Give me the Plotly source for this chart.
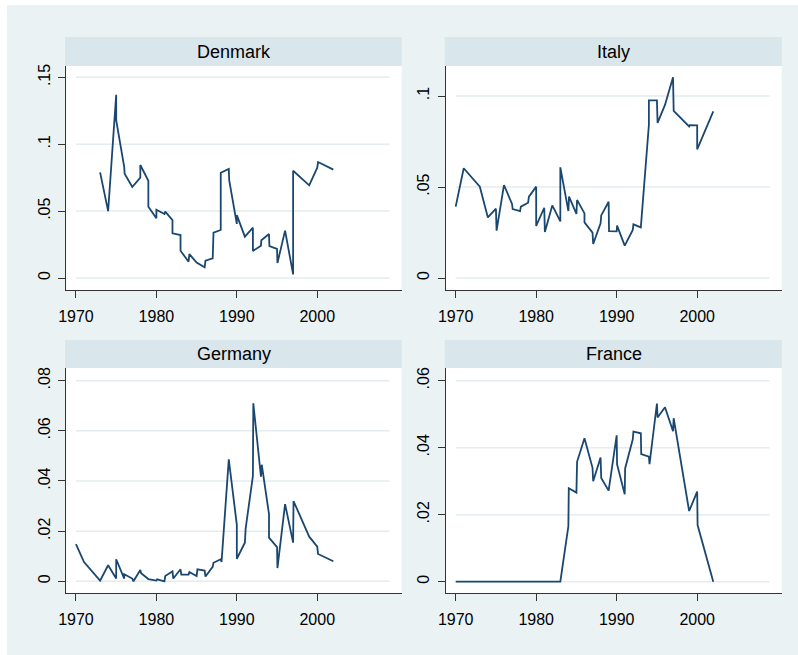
import plotly.graph_objects as go

W, H = 798, 655

# ---------------- data ----------------
countries = ["Denmark", "Italy", "Germany", "France"]

denmark_years = [1973, 1974, 1975, 1975, 1976, 1976.05, 1977, 1978, 1978, 1979, 1979, 1980, 1980,
                 1981, 1981.1, 1982, 1982, 1983, 1983, 1984, 1984.1, 1985, 1986, 1986.1, 1987, 1987.1,
                 1988, 1988, 1989, 1989.05, 1990, 1990, 1991, 1992, 1992, 1993, 1993.05, 1994, 1994.05,
                 1995, 1995.05, 1996, 1997, 1997, 1999, 2000, 2000.1, 2002]
denmark_vals = [0.079, 0.050, 0.137, 0.118, 0.083, 0.078, 0.068, 0.075, 0.0845, 0.0727, 0.0533, 0.0446, 0.051,
                0.0478, 0.0496, 0.0433, 0.0334, 0.0321, 0.0204, 0.0122, 0.0179, 0.0115, 0.008, 0.013, 0.0147, 0.0339,
                0.0359, 0.0787, 0.0815, 0.0732, 0.0404, 0.047, 0.0309, 0.0376, 0.0202, 0.0242, 0.0282, 0.0329, 0.0239,
                0.0217, 0.0112, 0.0354, 0.0027, 0.0802, 0.0693, 0.0825, 0.0867, 0.081]

italy_years = [1970, 1971, 1973, 1974, 1975, 1975.08, 1976, 1977, 1977.08, 1978, 1978.1, 1979, 1979.1,
               1980, 1980, 1981, 1981.08, 1982, 1983, 1983, 1984, 1984.08, 1985, 1985.08, 1986, 1986,
               1987, 1987.08, 1988, 1988.08, 1989, 1989.05, 1990, 1990.05, 1991, 1992, 1992.08, 1993,
               1994, 1994, 1995, 1995.08, 1996, 1997, 1997.08, 1999, 1999.08, 2000, 2000, 2002]
italy_vals = [0.0392, 0.0603, 0.0502, 0.0333, 0.0381, 0.026, 0.0511, 0.0407, 0.0379, 0.0368, 0.0392, 0.0414, 0.0447,
              0.0502, 0.0286, 0.0386, 0.0253, 0.0399, 0.0311, 0.0608, 0.0368, 0.0447, 0.0352, 0.0429, 0.0355, 0.0306,
              0.0249, 0.0187, 0.030, 0.0344, 0.0419, 0.0258, 0.0256, 0.0288, 0.0178, 0.0264, 0.0295, 0.0278,
              0.0841, 0.0976, 0.0976, 0.0852, 0.0951, 0.1103, 0.0918, 0.0833, 0.084, 0.0839, 0.0707, 0.0916]

germany_years = [1970, 1971, 1973, 1974, 1975, 1975, 1976, 1976, 1977, 1977.15, 1978, 1978.1, 1979, 1980,
                 1980.1, 1981, 1981.1, 1982, 1982.1, 1983, 1983.1, 1984, 1984.1, 1985, 1985.1, 1986, 1986.1,
                 1987, 1987.1, 1988, 1988.1, 1989, 1990, 1990, 1991, 1991.1, 1992, 1992.05, 1993, 1993.1,
                 1994, 1994, 1995, 1995.05, 1996, 1997, 1997.05, 1999, 2000, 2000.1, 2002]
germany_vals = [0.0148, 0.0077, 0.0003, 0.0064, 0.0011, 0.0088, 0.0011, 0.0028, 0.0011, 0.0, 0.0045, 0.0032, 0.0009,
                0.0003, 0.0008, 0.0, 0.0021, 0.004, 0.0011, 0.0048, 0.0027, 0.0027, 0.0037, 0.0021, 0.0048, 0.0043,
                0.0019, 0.0058, 0.0074, 0.0088, 0.0077, 0.0486, 0.0225, 0.009, 0.0154, 0.0211, 0.042, 0.071, 0.0417,
                0.0465, 0.0268, 0.0174, 0.0136, 0.0053, 0.0308, 0.0154, 0.032, 0.0178, 0.0138, 0.0109, 0.008]

france_years = [1970, 1971, 1972, 1973, 1974, 1975, 1976, 1977, 1978, 1979, 1980, 1981, 1982, 1983,
                1984, 1984.05, 1985, 1985.08, 1986, 1987, 1987.08, 1988, 1988.08, 1989, 1990, 1990.05,
                1991, 1991.05, 1992, 1992.08, 1993, 1993.05, 1994, 1994.08, 1995, 1995.08, 1996, 1997,
                1997.08, 1999, 2000, 2000.05, 2002]
france_vals = [0, 0, 0, 0, 0, 0, 0, 0, 0, 0, 0, 0, 0, 0,
               0.0166, 0.0279, 0.0266, 0.0358, 0.0428, 0.034, 0.030, 0.0371, 0.031, 0.0272, 0.0437, 0.035,
               0.0261, 0.0338, 0.0425, 0.0448, 0.0443, 0.0381, 0.0373, 0.0351, 0.0532, 0.049, 0.0521, 0.0449,
               0.0488, 0.0211, 0.0269, 0.0169, 0]

x_ticks = [1970, 1980, 1990, 2000]
denmark_yticks = [0, 0.05, 0.1, 0.15]
denmark_ylabels = ["0", ".05", ".1", ".15"]
italy_yticks = [0, 0.05, 0.1]
italy_ylabels = ["0", ".05", ".1"]
germany_yticks = [0, 0.02, 0.04, 0.06, 0.08]
germany_ylabels = ["0", ".02", ".04", ".06", ".08"]
france_yticks = [0, 0.02, 0.04, 0.06]
france_ylabels = ["0", ".02", ".04", ".06"]

# ---------------- layout geometry (pixels) ----------------
LINE = "#1A476F"
OUTER = "#EAF2F3"
STRIP = "#D9E6EB"
GRID = "#E3ECEF"
AX = "#333333"
FONT = "Liberation Sans, Arial, sans-serif"

cols = [(66, 401.7), (445.7, 781.7)]
rows = [(66, 290), (368, 593)]
strips = [(37, 66), (340, 368)]
xrange_ = [1968.76, 2010.5]
yranges = [[-0.00897, 0.1585], [-0.00659, 0.1165], [-0.00466, 0.08505], [-0.00337, 0.0638]]

panels = [
    (denmark_years, denmark_vals, denmark_yticks, denmark_ylabels),
    (italy_years, italy_vals, italy_yticks, italy_ylabels),
    (germany_years, germany_vals, germany_yticks, germany_ylabels),
    (france_years, france_vals, france_yticks, france_ylabels),
]

fig = go.Figure()
layout = dict(
    width=W, height=H,
    margin=dict(l=0, r=0, t=0, b=0, autoexpand=False),
    paper_bgcolor="white",
    plot_bgcolor="white",
    showlegend=False,
    font=dict(family=FONT, color="black"),
)
shapes = [dict(type="rect", xref="paper", yref="paper", x0=7 / W, x1=1, y0=0, y1=1 - 5 / H,
               fillcolor=OUTER, line=dict(width=0), layer="below")]
annotations = []

for i, (name, (xs, ys, yt, yl)) in enumerate(zip(countries, panels)):
    r, c = divmod(i, 2)
    n = "" if i == 0 else str(i + 1)
    x0, x1 = cols[c]
    yt0, yb0 = rows[r]
    st, sb = strips[r]
    fig.add_trace(go.Scatter(x=xs, y=ys, mode="lines", line=dict(color=LINE, width=1.8),
                             xaxis="x" + n, yaxis="y" + n, hoverinfo="skip"))
    layout["xaxis" + n] = dict(
        domain=[x0 / W, x1 / W], anchor="y" + n, range=xrange_, automargin=False,
        tickvals=x_ticks, ticks="outside", ticklen=7, tickcolor=AX, tickwidth=1,
        showline=True, linecolor=AX, linewidth=1, showgrid=False, zeroline=False,
        tickfont=dict(size=16, family=FONT, color="black"), ticklabelstandoff=5,
    )
    layout["yaxis" + n] = dict(
        domain=[1 - yb0 / H, 1 - yt0 / H], anchor="x" + n, range=yranges[i], automargin=False,
        tickvals=yt, ticktext=yl, tickangle=-90, ticks="outside", ticklen=7, tickcolor=AX, tickwidth=1,
        showline=True, linecolor=AX, linewidth=1, showgrid=False, zeroline=False,
        tickfont=dict(size=16, family=FONT, color="black"), ticklabelstandoff=2,
    )
    # white plot region background
    shapes.append(dict(type="rect", xref="paper", yref="paper", x0=x0 / W, x1=x1 / W,
                       y0=1 - yb0 / H, y1=1 - yt0 / H, fillcolor="white", line=dict(width=0), layer="below"))
    # title strip
    shapes.append(dict(type="rect", xref="paper", yref="paper", x0=(x0 - 1) / W, x1=x1 / W,
                       y0=1 - sb / H, y1=1 - st / H, fillcolor=STRIP, line=dict(width=0), layer="below"))
    # gridlines
    for v in yt:
        shapes.append(dict(type="line", xref="x" + n, yref="y" + n, x0=1970, x1=2009, y0=v, y1=v,
                           line=dict(color=GRID, width=1.5), layer="below"))
    annotations.append(dict(text=name, xref="paper", yref="paper", x=(x0 + x1) / 2 / W,
                            y=1 - (st + sb) / 2 / H, showarrow=False, xanchor="center", yanchor="middle",
                            font=dict(size=18, family=FONT, color="black")))

layout["shapes"] = shapes
layout["annotations"] = annotations
fig.update_layout(**layout)
fig.write_html("out.html", config={"displayModeBar": False},
               post_script="document.body.style.margin='0';document.body.style.overflow='hidden';")
